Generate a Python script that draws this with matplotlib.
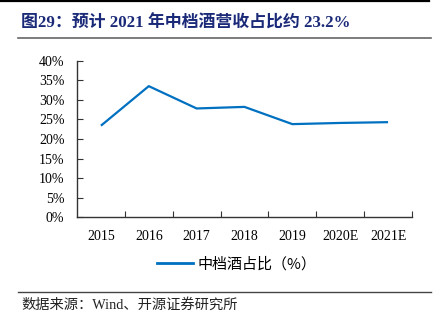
import matplotlib
matplotlib.use("Agg")
import matplotlib.pyplot as plt
from matplotlib.lines import Line2D
from matplotlib.ticker import FixedLocator, PercentFormatter
import numpy as np

# Data
years = ["2015", "2016", "2017", "2018", "2019", "2020E", "2021E"]
share = [23.4, 33.5, 27.8, 28.2, 23.8, 24.1, 24.3]
y_ticks = [0, 5, 10, 15, 20, 25, 30, 35, 40]

title = "图29：预计 2021 年中档酒营收占比约 23.2%"
series_name = "中档酒占比（%）"
source = "数据来源：Wind、开源证券研究所"

serif_cjk = ["Liberation Serif", "Noto Sans CJK SC"]
plt.rcParams["font.family"] = serif_cjk

W, H = 446, 327
fig = plt.figure(figsize=(W / 100, H / 100), dpi=100)

# Axes placement in pixels -> figure fractions
ax_l, ax_r, ax_t, ax_b = 77, 412, 60.7, 217.3
ax = fig.add_axes([ax_l / W, 1 - ax_b / H, (ax_r - ax_l) / W, (ax_b - ax_t) / H])

x = np.arange(len(years))
ax.plot(x, share, color="#0070C0", linewidth=1.6, solid_capstyle="butt")

ax.set_xlim(-0.5, len(years) - 0.5)
ax.set_ylim(0, 40)

# Category labels centred, tick marks on boundaries
ax.set_xticks(x)
ax.set_xticklabels(years, fontsize=10)
ax.tick_params(axis="x", which="major", length=0, pad=9)
ax.xaxis.set_minor_locator(FixedLocator(np.arange(0.5, len(years), 1.0)))
ax.tick_params(axis="x", which="minor", direction="in", length=4, width=0.8, color="#333333")

ax.set_yticks(y_ticks)
ax.yaxis.set_major_formatter(PercentFormatter(decimals=0))
ax.tick_params(axis="y", direction="in", length=4, width=0.8, color="#333333", pad=9, labelsize=10)

for side in ["top", "right"]:
    ax.spines[side].set_visible(False)
for side in ["left", "bottom"]:
    ax.spines[side].set_color("#333333")
    ax.spines[side].set_linewidth(1.0)

# Legend below the axes
leg = fig.legend(
    [Line2D([], [], color="#0070C0", linewidth=2)],
    [series_name],
    loc="center left",
    bbox_to_anchor=(157 / W, 1 - 264 / H),
    frameon=False,
    borderpad=0,
    borderaxespad=0,
    handlelength=2.4,
    handletextpad=0.3,
    prop={"family": ["Noto Sans CJK SC"], "size": 10.8},
)

# Title and rules
fig.text(21 / W, 1 - 23 / H, title, fontsize=12.2, fontweight="bold",
         color="#1B2A78", va="center", ha="left", family=serif_cjk)
fig.add_artist(Line2D([0, 429 / W], [1 - 0.8 / H, 1 - 0.8 / H], color="black", linewidth=1.6))
fig.add_artist(Line2D([18 / W, 431 / W], [1 - 38 / H, 1 - 38 / H], color="#666666", linewidth=1.2))
fig.add_artist(Line2D([18 / W, 431 / W], [1 - 292 / H, 1 - 292 / H], color="#444444", linewidth=1.0))
fig.text(21 / W, 1 - 305 / H, source, fontsize=10.3, color="#222222",
         va="center", ha="left", family=serif_cjk)

fig.savefig("out.png", dpi=100)
